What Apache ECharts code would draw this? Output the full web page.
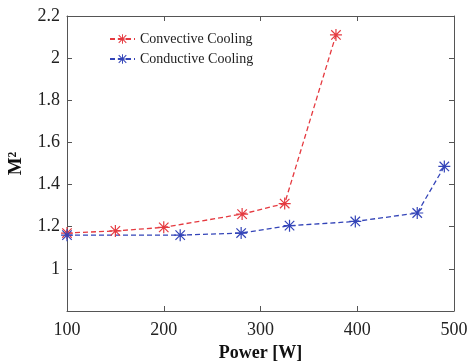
<!DOCTYPE html>
<html>
<head>
<meta charset="utf-8">
<script src="https://cdn.jsdelivr.net/npm/echarts@6/dist/echarts.min.js"></script>
<style>
  html, body { margin: 0; padding: 0; background: #fff; }
  #chart { width: 469px; height: 362px; }
</style>
</head>
<body>
<div id="chart"></div>
<script>
'use strict';
// values
const seriesNames = ['Convective Cooling', 'Conductive Cooling'];
const convPower = [100, 150, 200, 281, 325, 378];
const convM2 = [1.17, 1.18, 1.197, 1.26, 1.31, 2.11];
const condPower = [100, 217, 280, 330, 398, 462, 490];
const condM2 = [1.16, 1.16, 1.17, 1.205, 1.225, 1.265, 1.486];

// asterisk marker, like matlab '*'
const star = 'path://M0,9L20,9L20,11L0,11Z M9,0L11,0L11,20L9,20Z ' +
  'M1.4,2.8L2.8,1.4L18.6,17.2L17.2,18.6Z M17.2,1.4L18.6,2.8L2.8,18.6L1.4,17.2Z';

const serif = '"Liberation Serif", "DejaVu Serif", serif';
const axisColor = '#555';

function pairs(xs, ys) {
  return xs.map((x, i) => [x, ys[i]]);
}

let chart = echarts.init(document.getElementById('chart'), null, { renderer: 'canvas' });
chart.setOption({
  animation: false,
  grid: { left: 67, right: 15, top: 16, bottom: 51, outerBoundsMode: 'none' },
  legend: {
    left: 104,
    top: 27,
    orient: 'vertical',
    itemWidth: 25,
    itemHeight: 12,
    itemGap: 6,
    textStyle: { fontFamily: serif, fontSize: 14, color: '#222' },
    data: seriesNames
  },
  xAxis: [{
    type: 'value',
    min: 100, max: 500, interval: 100,
    name: 'Power [W]',
    nameLocation: 'middle',
    nameGap: 30,
    nameTextStyle: { fontFamily: serif, fontSize: 18, fontWeight: 'bold', color: '#111' },
    axisLine: { lineStyle: { color: axisColor, width: 1 } },
    axisTick: { inside: true, length: 5, lineStyle: { color: axisColor } },
    axisLabel: { fontFamily: serif, fontSize: 18, color: '#222', margin: 10 },
    splitLine: { show: false }
  }, {
    type: 'value', position: 'top',
    min: 100, max: 500, interval: 100,
    axisLine: { show: true, lineStyle: { color: axisColor, width: 1 } },
    axisTick: { inside: true, length: 5, lineStyle: { color: axisColor } },
    axisLabel: { show: false },
    splitLine: { show: false }
  }],
  yAxis: [{
    type: 'value',
    min: 0.8, max: 2.2, interval: 0.2,
    name: 'M²',
    nameLocation: 'middle',
    nameGap: 41,
    nameTextStyle: { fontFamily: serif, fontSize: 19, fontWeight: 'bold', color: '#111' },
    axisLine: { show: true, lineStyle: { color: axisColor, width: 1 } },
    axisTick: { inside: true, length: 5, lineStyle: { color: axisColor } },
    axisLabel: {
      fontFamily: serif, fontSize: 18, color: '#222', margin: 7,
      formatter: v => (Math.abs(v - 0.8) < 1e-6 ? '' : String(parseFloat(v.toFixed(1))))
    },
    splitLine: { show: false }
  }, {
    type: 'value', position: 'right',
    min: 0.8, max: 2.2, interval: 0.2,
    axisLine: { show: true, lineStyle: { color: axisColor, width: 1 } },
    axisTick: { inside: true, length: 5, lineStyle: { color: axisColor } },
    axisLabel: { show: false },
    splitLine: { show: false }
  }],
  series: [{
    name: seriesNames[0],
    type: 'line',
    data: pairs(convPower, convM2),
    symbol: star,
    symbolSize: 12,
    color: '#e53a40',
    lineStyle: { type: [5, 3], width: 1.3 },
    itemStyle: { color: '#e53a40' }
  }, {
    name: seriesNames[1],
    type: 'line',
    data: pairs(condPower, condM2),
    symbol: star,
    symbolSize: 12,
    color: '#3344b8',
    lineStyle: { type: [5, 3], width: 1.3 },
    itemStyle: { color: '#3344b8' }
  }]
});
</script>
</body>
</html>
